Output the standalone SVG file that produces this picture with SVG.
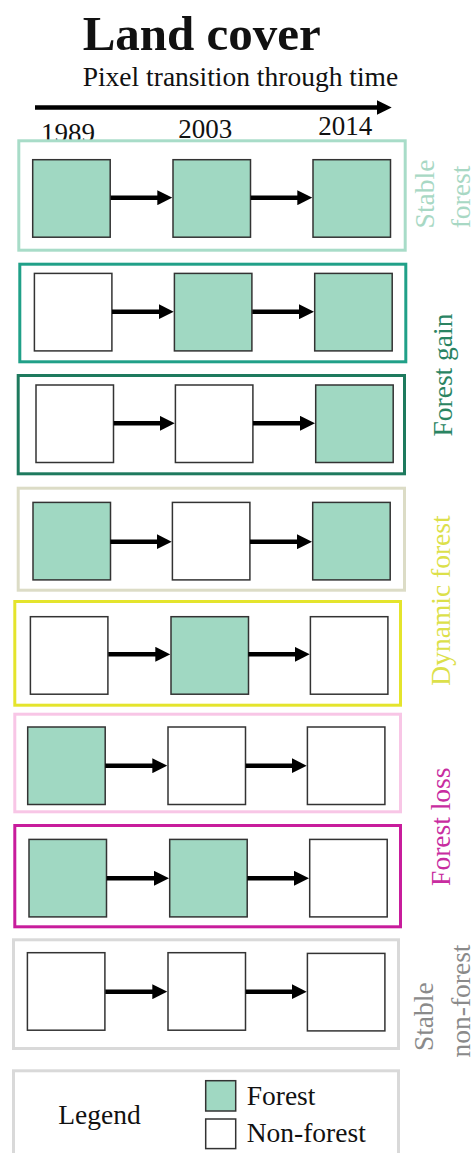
<svg xmlns="http://www.w3.org/2000/svg" width="474" height="1153" viewBox="0 0 474 1153">
<style>
  text { font-family: "Liberation Serif", "Times New Roman", serif; fill: #111; }
  .title { font-size: 49px; font-weight: bold; }
  .sub { font-size: 27.5px; }
  .yr { font-size: 27px; }
  .lab { font-size: 27.5px; text-anchor: middle; }
  .leg { font-size: 27.5px; }
  .c1 { fill: #a8d8c4; }
  .c2 { fill: #2a8462; }
  .c3 { fill: #dce04a; }
  .c4 { fill: #c82ca0; }
  .c5 { fill: #8a8a8a; }
  .box { fill: #fff; stroke-width: 3; }
  .f { fill: #a0d8c2; stroke: #333; stroke-width: 1.5; }
  .n { fill: #fff; stroke: #333; stroke-width: 1.5; }
  .arr { stroke: #000; stroke-width: 4.5; fill: none; marker-end: url(#ah); }
</style>
<defs>
  <marker id="ah" markerUnits="userSpaceOnUse" markerWidth="15" markerHeight="15" refX="6" refY="7.5" orient="auto">
    <path d="M0,0 L15,7.5 L0,15 z" fill="#000"/>
  </marker>
</defs>

<g id="header">
  <text class="title" x="82.7" y="49.5" font-family="Liberation Serif, serif">Land cover</text>
  <text class="sub" x="82.7" y="86" font-family="Liberation Serif, serif">Pixel transition through time</text>
  <text class="yr" x="41" y="141.5" font-family="Liberation Serif, serif">1989</text>
  <text class="yr" x="178.3" y="138.3" font-family="Liberation Serif, serif">2003</text>
  <text class="yr" x="318.3" y="135" font-family="Liberation Serif, serif">2014</text>
</g>

<g id="row-stable-forest">
  <rect class="box" x="18.8" y="140.8" width="386.4" height="109.4" stroke="#a8dcc8"/>
  <rect class="f" x="32.7" y="159.7" width="77.5" height="77.5"/>
  <rect class="f" x="173" y="159.7" width="77.5" height="77.5"/>
  <rect class="f" x="313" y="159.7" width="77.5" height="77.5"/>
</g>
<g id="row-forest-gain-1">
  <rect class="box" x="19.8" y="264.2" width="386" height="97.6" stroke="#20a088"/>
  <rect class="n" x="34.4" y="273.4" width="77.5" height="77.5"/>
  <rect class="f" x="174.4" y="273.4" width="77.5" height="77.5"/>
  <rect class="f" x="314.7" y="273.4" width="77.5" height="77.5"/>
</g>
<g id="row-forest-gain-2">
  <rect class="box" x="18.2" y="375.5" width="386.3" height="98.3" stroke="#1e7a5e"/>
  <rect class="n" x="36" y="385" width="77.5" height="77.5"/>
  <rect class="n" x="175.4" y="385" width="77.5" height="77.5"/>
  <rect class="f" x="315.7" y="385" width="77.5" height="77.5"/>
</g>
<g id="row-dynamic-1">
  <rect class="box" x="18.2" y="488.2" width="386.3" height="102" stroke="#dcdcc6"/>
  <rect class="f" x="33" y="502.4" width="77.5" height="77.5"/>
  <rect class="n" x="172.4" y="502.4" width="77.5" height="77.5"/>
  <rect class="f" x="312.7" y="502.4" width="77.5" height="77.5"/>
</g>
<g id="row-dynamic-2">
  <rect class="box" x="14.8" y="601.5" width="385.7" height="103.7" stroke="#e4e42c"/>
  <rect class="n" x="30.4" y="616.7" width="77.5" height="77.5"/>
  <rect class="f" x="171" y="616.7" width="77.5" height="77.5"/>
  <rect class="n" x="310.4" y="616.7" width="77.5" height="77.5"/>
</g>
<g id="row-forest-loss-1">
  <rect class="box" x="14.8" y="714.2" width="385.7" height="97.6" stroke="#f8c6e6"/>
  <rect class="f" x="27.7" y="727" width="77.5" height="77.5"/>
  <rect class="n" x="168" y="727" width="77.5" height="77.5"/>
  <rect class="n" x="307.4" y="727" width="77.5" height="77.5"/>
</g>
<g id="row-forest-loss-2">
  <rect class="box" x="14.8" y="825.5" width="385.7" height="101.3" stroke="#c81c9c"/>
  <rect class="f" x="29" y="839.4" width="77.5" height="77.5"/>
  <rect class="f" x="169.7" y="839.4" width="77.5" height="77.5"/>
  <rect class="n" x="309.7" y="839.4" width="77.5" height="77.5"/>
</g>
<g id="row-stable-nonforest">
  <rect class="box" x="13.5" y="939.8" width="385" height="108.7" stroke="#d9d9d9"/>
  <rect class="n" x="27.4" y="952.7" width="77.5" height="77.5"/>
  <rect class="n" x="168" y="952.7" width="77.5" height="77.5"/>
  <rect class="n" x="307.4" y="953.4" width="77.5" height="77.5"/>
</g>

<g id="connectors">
  <line class="arr" x1="35" y1="107.5" x2="382.7" y2="107.5"/>
  <line class="arr" x1="110.7" y1="197.7" x2="163.3" y2="197.7"/>
  <line class="arr" x1="250.7" y1="197.7" x2="303.3" y2="197.7"/>
  <line class="arr" x1="112" y1="311.7" x2="164.7" y2="311.7"/>
  <line class="arr" x1="252.3" y1="311.7" x2="305" y2="311.7"/>
  <line class="arr" x1="113.7" y1="423.3" x2="165.7" y2="423.3"/>
  <line class="arr" x1="253" y1="423.3" x2="306" y2="423.3"/>
  <line class="arr" x1="110.3" y1="541.7" x2="162.7" y2="541.7"/>
  <line class="arr" x1="250" y1="541.7" x2="303" y2="541.7"/>
  <line class="arr" x1="108.3" y1="654.3" x2="161.3" y2="654.3"/>
  <line class="arr" x1="248.3" y1="654.3" x2="300.7" y2="654.3"/>
  <line class="arr" x1="105.3" y1="765.7" x2="158.3" y2="765.7"/>
  <line class="arr" x1="245.7" y1="765.7" x2="297.7" y2="765.7"/>
  <line class="arr" x1="106.7" y1="878.3" x2="160" y2="878.3"/>
  <line class="arr" x1="247.3" y1="878.3" x2="300" y2="878.3"/>
  <line class="arr" x1="105.3" y1="991.7" x2="158.3" y2="991.7"/>
  <line class="arr" x1="245.7" y1="991.7" x2="297.7" y2="991.7"/>
</g>

<g id="labels">
  <text class="lab c1" x="434" y="194" transform="rotate(-90 434 194)" font-family="Liberation Serif, serif">Stable</text>
  <text class="lab c1" x="469.5" y="197" transform="rotate(-90 469.5 197)" font-family="Liberation Serif, serif">forest</text>
  <text class="lab c2" x="451.5" y="375" transform="rotate(-90 451.5 375)" font-family="Liberation Serif, serif">Forest gain</text>
  <text class="lab c3" x="450" y="600.5" transform="rotate(-90 450 600.5)" font-family="Liberation Serif, serif">Dynamic forest</text>
  <text class="lab c4" x="450" y="826.7" transform="rotate(-90 450 826.7)" font-family="Liberation Serif, serif">Forest loss</text>
  <text class="lab c5" x="433.3" y="1016.7" transform="rotate(-90 433.3 1016.7)" font-family="Liberation Serif, serif">Stable</text>
  <text class="lab c5" x="469.5" y="1001" transform="rotate(-90 469.5 1001)" font-family="Liberation Serif, serif">non-forest</text>
</g>

<g id="legend">
  <rect class="box" x="13.5" y="1070.8" width="385" height="95" stroke="#d9d9d9"/>
  <text class="leg" x="58.3" y="1124" font-family="Liberation Serif, serif" font-size="28">Legend</text>
  <rect class="f" x="205.7" y="1080.7" width="30" height="30.3"/>
  <rect class="n" x="205.7" y="1119" width="30" height="29.6"/>
  <text class="leg" x="246.7" y="1105" font-family="Liberation Serif, serif">Forest</text>
  <text class="leg" x="246.7" y="1141.7" font-family="Liberation Serif, serif">Non-forest</text>
</g>
</svg>
